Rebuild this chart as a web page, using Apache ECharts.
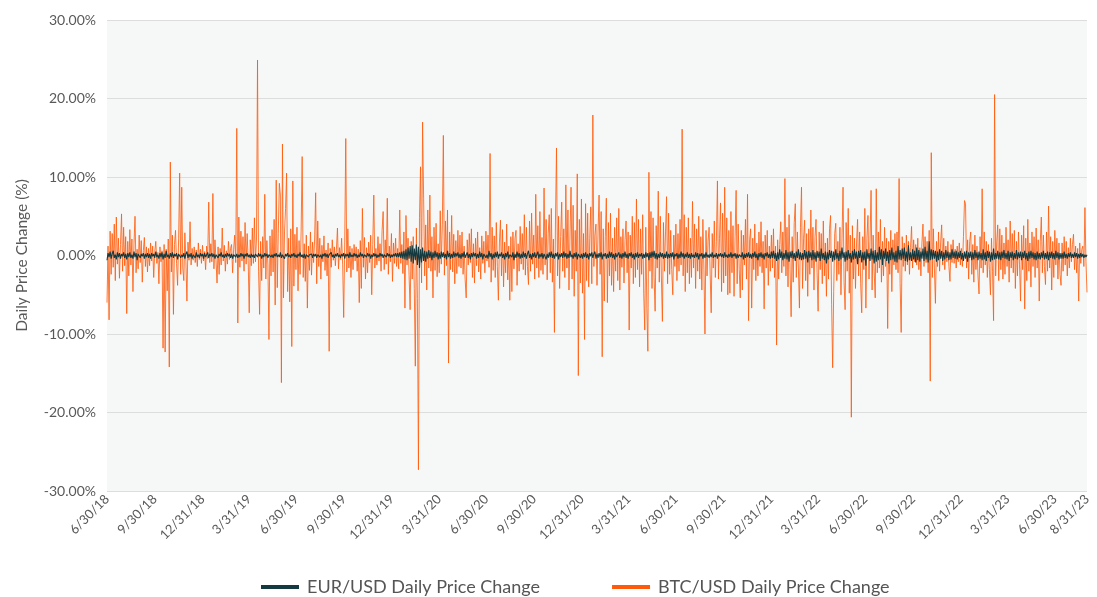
<!DOCTYPE html>
<html>
<head>
<meta charset="utf-8">
<script src="https://cdn.jsdelivr.net/npm/echarts@6/dist/echarts.min.js"></script>
<style>html,body{margin:0;padding:0;background:#fff;}#c{width:1097px;height:597px;}</style>
</head>
<body>
<div id="c"></div>
<script>
// Tick labels on the date axis (quarter ends)
const tickLabels = ['6/30/18','9/30/18','12/31/18','3/31/19','6/30/19','9/30/19','12/31/19','3/31/20','6/30/20','9/30/20','12/31/20','3/31/21','6/30/21','9/30/21','12/31/21','3/31/22','6/30/22','9/30/22','12/31/22','3/31/23','6/30/23','8/31/23'];
const startDate = '6/30/18';
const stepDays = 2; // one reading every 2 days

// BTC/USD daily price change (%)
const btcValues = [
-6.0,1.2,-8.2,3.1,-2.4,2.8,-1.5,4.0,-3.2,4.9,-1.1,2.2,-2.9,1.4,5.3,-2.0,3.6,-1.3,2.4,-7.4,
1.8,-2.6,3.3,-1.2,2.1,-4.6,1.5,5.0,-2.2,0.8,-1.7,2.6,-0.9,1.9,-3.4,0.6,2.3,-1.4,1.1,-2.1,
0.9,-1.3,1.6,-0.7,1.2,-2.8,0.5,1.8,-1.0,0.4,-3.6,1.1,-0.8,0.6,-11.8,1.4,-12.3,0.8,-4.5,2.1,
-14.2,11.9,-2.1,2.6,-7.5,1.4,3.2,-1.0,-3.8,2.2,10.5,-2.4,8.7,-1.6,-3.2,2.9,-0.8,-5.8,1.7,-0.6,
4.3,-1.2,0.9,-0.6,1.1,-0.9,0.7,-1.4,1.6,-0.5,0.8,-1.0,1.3,-0.7,0.5,-1.8,1.2,-0.4,6.8,-0.9,
1.5,-0.8,7.9,-1.7,2.0,-0.6,-3.5,1.1,-2.4,0.9,-1.2,3.5,-0.7,1.3,-2.0,0.6,-1.1,1.8,-0.5,0.9,
1.4,-2.2,0.8,2.6,-0.9,16.2,-8.6,4.9,-1.5,3.1,-0.7,2.4,-2.0,4.2,-1.1,2.8,-0.6,-7.3,2.0,-1.3,
3.5,-1.0,4.8,-0.8,2.1,24.9,-2.0,-7.5,1.8,-3.2,2.4,-1.6,7.8,-3.0,1.9,-1.2,-10.7,2.5,-2.6,3.3,
-2.1,4.6,-6.3,9.6,-4.1,2.8,9.2,7.7,-16.2,14.2,-5.4,3.0,6.0,10.5,-4.6,2.2,-5.9,3.4,-11.6,9.5,
-3.9,2.7,-1.8,3.6,-4.5,1.9,-2.4,3.1,12.6,-2.8,1.5,-3.3,2.6,-6.7,1.2,-1.9,3.0,-2.5,1.7,-0.9,
2.1,8.0,-3.6,4.4,-1.4,2.2,-3.0,1.3,-0.8,2.5,-1.9,0.7,-2.6,1.6,-12.2,0.9,-1.5,2.0,-0.6,1.1,
-1.3,0.8,3.5,-1.7,1.0,-0.5,2.2,-1.2,-7.9,1.6,14.9,-2.1,3.4,-1.6,1.2,-2.8,0.9,-1.8,1.4,-0.7,
1.1,-2.0,0.8,-6.0,1.9,-4.2,6.0,-1.5,2.3,-3.0,1.0,-2.2,1.7,-0.9,2.6,-5.0,1.4,7.7,-1.6,0.9,
-1.2,2.4,-0.7,1.5,-2.0,3.2,5.6,-1.8,2.0,-1.1,7.3,-2.4,1.2,-0.8,2.8,-3.3,1.6,-1.0,2.2,-1.4,
0.9,-1.7,5.8,-1.0,1.4,-2.3,3.0,-6.7,5.1,-1.2,2.2,-2.6,-6.9,1.8,-3.0,2.4,-4.2,-14.1,3.5,-5.5,
-27.3,4.8,11.3,-3.5,17.0,7.3,-2.6,3.9,-4.4,5.8,-1.6,7.7,-2.0,2.4,-5.4,3.6,-1.9,4.1,-2.7,1.5,
-2.2,5.7,-1.1,3.9,15.3,-2.5,4.4,-1.3,5.8,-13.7,3.0,-1.8,5.1,-2.1,2.7,-3.6,1.9,-2.3,3.2,-1.4,
2.6,-1.6,3.0,-2.4,1.2,-3.1,-5.4,2.0,-1.2,2.8,-0.9,3.4,-2.8,1.5,-3.5,2.2,-1.3,3.0,-2.1,1.0,
-3.0,2.5,-1.0,1.8,-2.2,3.1,-0.7,2.6,-1.5,13.0,-3.4,3.6,-1.9,2.5,-2.8,4.2,-1.4,-5.7,1.6,4.5,
-2.6,3.3,-4.0,1.7,-2.2,4.0,-3.1,1.2,-5.7,2.4,-4.6,3.0,-1.7,2.2,3.2,-3.8,1.5,-2.0,3.7,-1.1,
2.8,-1.8,5.2,-2.5,3.6,-1.4,-3.7,4.4,-2.0,5.4,-1.1,2.6,-3.0,7.8,-1.6,3.8,-2.8,5.6,-1.9,2.3,
-2.4,8.6,-1.2,4.6,-3.1,2.8,5.2,-2.2,6.0,-3.4,2.1,-9.8,4.4,13.7,-2.6,5.0,-4.2,2.4,6.8,-2.0,
3.4,-2.8,9.0,-1.6,5.8,-4.4,2.6,8.7,-3.0,6.4,-5.2,3.2,-2.0,10.4,-15.3,4.6,-3.5,7.2,-4.8,2.8,
-10.7,6.6,-3.2,5.4,-4.0,2.2,6.2,-3.6,17.9,-1.4,2.6,4.0,-3.8,3.0,7.7,-2.4,5.6,-12.9,3.4,-5.8,
2.4,7.3,-6.0,4.2,-2.6,5.4,-3.8,2.2,-4.6,3.6,-2.0,4.8,-3.2,6.0,-4.4,2.4,-1.5,3.4,-3.5,2.0,
4.4,-2.2,3.0,-9.5,2.6,-1.6,5.0,-3.6,4.2,-2.8,7.2,-1.8,4.6,-4.0,3.4,-2.4,5.2,-4.8,-9.5,3.6,
-6.8,-12.2,10.6,-2.0,5.6,-4.2,4.8,-2.8,-7.1,3.8,-1.6,8.2,-3.4,5.0,-2.6,-8.4,4.2,-2.0,3.0,7.5,
-3.6,5.4,-2.4,3.2,-1.8,-5.0,2.6,-1.4,4.0,-3.2,2.8,-2.0,4.6,-1.2,16.1,-2.6,5.2,-4.6,3.6,-2.2,
4.8,-3.6,2.2,-2.8,6.9,-1.6,4.0,-4.2,3.4,-2.0,5.0,-3.0,2.4,-4.4,4.6,-1.8,-10.0,3.2,-2.6,1.8,
3.6,-2.4,-7.3,2.8,-1.6,4.4,-2.8,1.8,9.5,-3.0,2.2,6.7,-4.6,5.4,-3.5,8.7,-2.6,4.8,-5.0,3.2,
-4.8,5.6,-2.2,3.8,-5.2,2.4,8.3,-3.6,4.0,-1.8,-5.4,3.2,-4.4,2.6,-1.2,4.6,-3.0,7.8,-8.3,2.0,
3.4,-6.7,2.2,-1.8,4.0,-3.2,1.6,-2.6,3.0,-1.4,4.3,-2.2,1.8,-6.8,2.6,-1.6,3.2,-3.8,1.2,-2.0,
2.6,-1.6,3.4,-2.8,1.2,-11.4,2.0,-3.0,1.4,4.3,-2.2,3.0,-1.4,9.8,-2.6,3.6,-4.0,5.2,-1.8,-7.8,
2.4,-3.4,4.2,6.6,-2.8,3.0,-1.6,-6.7,3.6,8.7,-4.2,2.2,4.5,-3.2,2.8,-5.2,3.4,-2.4,5.8,-1.6,
3.6,-4.4,2.4,4.6,-2.2,-7.1,3.0,-1.8,2.8,-3.6,4.4,-2.6,1.6,-5.2,2.2,-3.0,3.4,5.1,-6.2,-14.3,
-4.6,2.8,4.1,-3.2,1.8,-2.4,3.6,-5.0,2.2,8.7,-3.4,-6.9,4.2,-2.0,6.0,-4.8,2.6,-20.6,3.8,-3.0,
2.2,-4.2,1.6,4.6,-2.6,3.0,-3.6,-7.3,2.4,-1.8,6.0,-6.7,2.2,5.1,-3.0,1.8,8.3,-4.4,2.6,-2.0,
-5.4,8.5,-2.2,3.0,-1.6,4.6,-3.4,1.8,-2.6,3.6,-1.4,2.2,-9.3,1.8,-2.4,3.2,-4.6,2.0,-1.2,2.8,
-1.8,3.0,-2.2,9.8,-3.6,-9.8,2.4,-1.4,1.6,-2.0,2.6,-1.2,1.8,-2.4,1.0,3.7,-1.6,2.0,-0.8,1.4,
-1.2,2.2,-1.8,1.0,-2.6,1.6,4.0,-1.4,2.4,-0.9,1.8,-2.2,3.2,-16.0,13.1,-2.8,3.4,-1.6,-6.1,1.8,
-1.4,3.0,-2.0,1.6,3.9,-1.2,2.2,-1.8,1.2,-0.8,1.8,-1.4,-3.3,1.4,-0.9,2.0,-1.0,0.8,-1.6,1.2,
-0.8,1.6,-1.2,0.9,-1.4,2.4,7.0,6.6,-1.6,2.0,-3.0,1.8,3.0,-2.4,1.4,-3.4,2.6,-1.8,1.2,-2.6,
-4.9,2.4,-1.6,8.5,-2.2,3.0,-1.2,1.8,-2.8,1.4,-1.8,-5.0,2.2,-2.0,-8.3,20.5,-2.6,1.6,3.9,-3.2,
3.4,-1.8,2.6,-3.0,1.6,-2.4,3.6,-1.4,2.0,-3.4,4.4,-1.6,2.8,-2.2,3.2,-4.2,1.8,-2.6,3.0,-1.2,
-5.8,2.6,-1.8,3.8,-6.8,2.2,-3.2,4.6,-2.0,1.6,-4.0,3.0,-1.4,2.4,-2.8,3.5,-1.6,2.0,-5.8,1.8,
4.9,-2.2,2.6,-1.4,-3.7,3.0,-2.0,6.3,-1.6,2.4,-4.4,1.8,-2.8,3.2,-1.2,2.2,-3.0,1.6,-2.4,-3.8,
1.6,-2.0,2.4,-1.2,1.8,-2.6,1.0,-1.6,2.2,-0.8,1.4,2.7,-1.8,1.2,-2.2,0.9,-5.8,1.6,-1.0,0.8,
1.2,-1.4,6.1,-0.8,-4.7
];

// EUR/USD daily price change (%)
const eurValues = [
-0.6,0.3,-0.2,0.5,-0.4,0.2,0.6,-0.3,0.1,-0.5,0.4,-0.2,0.3,-0.4,0.2,-0.1,0.4,-0.3,0.2,-0.5,
0.3,-0.2,0.4,-0.3,0.1,-0.4,0.5,-0.2,0.3,-0.6,0.2,0.4,-0.3,0.2,-0.1,0.3,-0.4,0.2,-0.2,0.3,
-0.3,0.2,-0.4,0.3,-0.1,0.2,-0.3,0.5,-0.2,0.1,-0.4,0.3,-0.2,0.4,-0.5,0.2,-0.3,0.6,-0.2,0.1,
-0.4,0.3,-0.2,0.4,-0.3,0.2,-0.1,0.3,-0.5,0.2,0.4,-0.3,0.1,-0.2,0.3,-0.4,0.2,0.5,-0.3,0.2,
-0.2,0.3,-0.4,0.1,0.2,-0.3,0.4,-0.2,0.1,-0.3,0.3,-0.1,0.2,-0.4,0.3,-0.2,0.1,0.4,-0.3,0.2,
-0.1,0.3,-0.2,0.2,-0.4,0.1,0.3,-0.3,0.2,-0.1,0.4,-0.2,0.1,-0.3,0.2,-0.2,0.3,-0.1,0.2,-0.3,
0.2,-0.4,0.1,0.3,-0.2,0.2,-0.3,0.1,-0.2,0.3,-0.1,0.2,-0.4,0.2,-0.1,0.3,-0.2,0.1,-0.3,0.2,
-0.2,0.1,-0.3,0.2,0.1,-0.2,0.3,-0.1,0.2,-0.4,0.1,-0.2,0.3,-0.1,0.2,-0.3,0.1,0.2,-0.2,0.1,
-0.3,0.2,-0.1,0.3,-0.2,0.1,-0.2,0.4,-0.3,0.1,0.2,-0.4,0.2,-0.1,0.3,-0.2,0.1,-0.3,0.2,-0.1,
0.3,-0.2,0.1,-0.3,0.2,-0.1,0.4,-0.2,0.1,-0.3,0.2,-0.4,0.1,0.3,-0.2,0.1,-0.1,0.2,-0.3,0.2,
-0.1,0.2,-0.3,0.1,0.3,-0.2,0.1,-0.4,0.2,-0.1,0.3,-0.2,0.2,-0.3,0.1,-0.1,0.4,-0.2,0.1,-0.3,
0.2,-0.1,0.3,-0.2,0.1,-0.3,0.2,-0.1,0.3,-0.4,0.2,-0.1,0.2,-0.3,0.4,-0.2,0.1,-0.2,0.3,-0.1,
0.2,-0.3,0.1,-0.2,0.4,-0.1,0.2,-0.3,0.1,0.2,-0.2,0.3,-0.1,0.2,-0.4,0.1,-0.2,0.3,-0.1,0.2,
-0.3,0.1,-0.2,0.3,-0.1,0.2,-0.3,0.1,0.2,-0.2,0.3,-0.1,0.2,-0.3,0.1,-0.2,0.2,-0.1,0.3,-0.2,
0.3,-0.2,0.4,-0.3,0.5,-0.4,0.6,-0.5,0.8,-0.6,1.0,-0.4,1.2,-0.8,1.3,-1.0,0.9,-0.6,1.4,-1.2,
1.1,-1.6,0.8,-0.9,1.0,-0.7,0.6,-0.8,0.5,-0.4,0.7,-0.3,0.5,-0.6,0.4,-0.3,0.6,-0.2,0.4,-0.5,
0.3,-0.4,0.5,-0.2,0.4,-0.3,0.2,-0.5,0.6,-0.2,0.3,-0.4,0.2,-0.3,0.5,-0.2,0.3,-0.1,0.4,-0.3,
0.2,-0.4,0.3,-0.2,0.5,-0.3,0.1,0.4,-0.3,0.2,-0.5,0.3,-0.2,0.4,-0.1,0.3,-0.4,0.2,-0.3,0.5,
-0.2,0.3,-0.5,0.2,0.4,-0.3,0.1,-0.4,0.6,-0.2,0.3,-0.5,0.2,-0.3,0.4,-0.2,0.5,-0.4,0.2,-0.1,
0.4,-0.3,0.2,-0.5,0.3,-0.2,0.5,-0.4,0.1,0.3,-0.2,0.4,-0.6,0.2,-0.3,0.5,-0.2,0.3,-0.4,0.2,
-0.3,0.5,-0.2,0.3,-0.4,0.2,0.6,-0.3,0.2,-0.5,0.3,-0.2,0.4,-0.3,0.1,0.5,-0.4,0.2,-0.2,0.3,
-0.4,0.2,0.3,-0.5,0.2,-0.3,0.4,-0.2,0.5,-0.3,0.2,-0.4,0.3,-0.1,0.4,-0.5,0.2,-0.2,0.3,-0.3,
0.5,-0.2,0.3,-0.4,0.2,-0.3,0.6,-0.2,0.1,-0.4,0.3,-0.2,0.4,-0.5,0.2,0.3,-0.3,0.2,-0.4,0.3,
-0.2,0.4,-0.3,0.2,-0.5,0.3,-0.1,0.4,-0.3,0.2,0.5,-0.4,0.2,-0.3,0.3,-0.2,0.4,-0.5,0.2,-0.1,
0.3,-0.4,0.2,-0.3,0.5,-0.2,0.4,-0.3,0.2,-0.5,0.3,-0.2,0.1,0.4,-0.3,0.2,-0.4,0.3,-0.2,0.5,
-0.3,0.2,-0.4,0.3,-0.1,0.4,-0.3,0.2,-0.5,0.3,-0.2,0.4,-0.3,0.2,-0.1,0.3,-0.4,0.2,-0.3,0.4,
-0.2,0.3,-0.6,0.4,-0.3,0.5,-0.2,0.6,-0.4,0.3,-0.5,0.2,-0.3,0.4,-0.2,0.3,-0.4,0.2,-0.3,0.5,
-0.4,0.2,-0.3,0.3,-0.2,0.4,-0.5,0.2,-0.1,0.3,-0.4,0.2,-0.3,0.5,-0.2,0.3,-0.4,0.2,-0.2,0.4,
-0.3,0.2,-0.4,0.3,-0.2,0.1,-0.3,0.4,-0.2,0.3,-0.5,0.2,-0.1,0.3,-0.4,0.2,-0.3,0.4,-0.2,0.1,
-0.3,0.2,-0.2,0.4,-0.3,0.1,-0.2,0.3,-0.4,0.2,-0.1,0.3,-0.2,0.2,-0.3,0.4,-0.2,0.1,-0.3,0.2,
-0.2,0.4,-0.3,0.2,-0.1,0.3,-0.4,0.2,-0.3,0.1,0.3,-0.2,0.4,-0.5,0.2,-0.3,0.3,-0.2,0.4,-0.3,
0.2,-0.4,0.3,-0.2,0.5,-0.3,0.2,-0.6,0.3,-0.2,0.4,-0.3,0.2,-0.5,0.3,-0.1,0.4,-0.3,0.2,-0.4,
0.5,-0.3,0.6,-0.4,0.3,-0.7,0.4,-0.5,0.8,-0.3,0.5,-0.6,0.3,-0.4,0.7,-0.5,0.4,-0.8,0.5,-0.3,
0.6,-0.4,0.3,-0.7,0.5,-0.3,0.8,-0.5,0.4,-0.6,0.3,-0.5,0.7,-0.4,0.5,-0.9,0.6,-0.3,0.4,-0.6,
0.7,-0.5,0.4,-0.8,0.6,-0.3,0.5,-0.7,0.9,-0.4,0.3,-0.6,0.5,-1.0,0.4,-0.5,0.7,-0.3,0.6,-0.8,
0.5,-0.6,0.8,-0.4,0.3,-0.7,0.6,-0.5,1.0,-0.3,0.4,-0.8,0.5,-0.6,0.7,-0.4,0.3,-0.9,0.6,-0.5,
0.8,-0.4,0.5,-1.1,0.6,-0.3,0.7,-0.9,0.4,-0.6,0.5,-1.3,0.8,-0.4,0.3,-0.7,0.9,-0.5,0.6,-1.0,
0.7,-0.8,0.4,-0.6,1.1,-0.5,0.8,-1.2,0.6,-0.4,0.9,-0.7,0.5,-1.0,0.7,-0.6,1.0,-0.5,0.4,-0.8,
0.6,-0.9,1.2,-0.5,0.7,-0.6,0.9,-0.4,1.0,-0.7,0.5,-0.8,1.3,-0.6,0.4,-0.7,0.8,-0.5,0.6,-0.9,
1.0,-0.6,0.7,-0.8,0.5,-0.4,0.9,-0.7,1.1,-0.5,0.6,-0.9,1.8,-0.6,0.8,-0.5,0.7,-0.4,0.6,-0.8,
0.5,-0.6,0.8,-0.4,0.6,-0.7,0.4,-0.5,0.7,-0.3,0.5,-0.6,0.4,-0.5,0.8,-0.3,0.5,-0.4,0.6,-0.5,
0.4,-0.3,0.6,-0.5,0.3,-0.7,0.5,-0.4,0.6,-0.8,0.4,-0.3,0.5,-0.6,0.4,-0.5,0.7,-0.3,0.4,-0.6,
0.5,-0.4,0.3,-0.6,0.8,-0.5,0.4,-0.7,0.6,-0.3,0.5,-0.8,0.4,-0.6,0.9,-0.5,0.3,-0.4,0.6,-0.5,
0.4,-0.6,0.5,-0.3,0.7,-0.4,0.3,-0.5,0.6,-0.7,0.4,-0.3,0.5,-0.6,0.3,-0.4,0.7,-0.5,0.4,-0.3,
0.5,-0.6,0.4,-0.3,0.6,-0.5,0.3,-0.7,0.5,-0.4,0.6,-0.3,0.4,-0.5,0.3,-0.6,0.5,-0.4,0.3,-0.5,
0.4,-0.3,0.6,-0.5,0.3,-0.4,0.5,-0.6,0.4,-0.3,0.5,-0.4,0.3,-0.5,0.6,-0.3,0.4,-0.5,0.3,-0.4,
0.3,-0.4,0.5,-0.3,0.2,-0.4,0.3,-0.2,0.4,-0.3,0.2,-0.3,0.4,-0.2,0.3,-0.4,0.2,-0.3,0.3,-0.2,
0.2,-0.3,0.1,-0.2,0.1
];

const seriesNames = ['EUR/USD Daily Price Change', 'BTC/USD Daily Price Change'];
const yTicks = { min: -30, max: 30, interval: 10 };

function parseMDY(s) {
  const p = s.split('/').map(Number);
  return Date.UTC(2000 + p[2], p[0] - 1, p[1]);
}
const t0 = parseMDY(startDate);
const dayOf = s => Math.round((parseMDY(s) - t0) / 86400000);
const tickDays = tickLabels.map(dayOf);
const labelByDay = {};
tickLabels.forEach((l, i) => { labelByDay[tickDays[i]] = l; });
const lastDay = tickDays[tickDays.length - 1];

const btcData = btcValues.map((v, i) => [i * stepDays, v]);
const eurData = eurValues.map((v, i) => [i * stepDays, v]);

const chart = echarts.init(document.getElementById('c'), null, { renderer: 'canvas' });
const FONT = 'Lato, "Open Sans", sans-serif';
chart.setOption({
  animation: false,
  backgroundColor: '#ffffff',
  textStyle: { fontFamily: FONT },
  grid: {
    left: 107, right: 10, top: 20, bottom: 106,
    show: true, backgroundColor: '#f6f8f8', borderWidth: 0
  },
  legend: {
    data: seriesNames,
    left: 256, top: 573,
    itemWidth: 38, itemHeight: 4, itemGap: 72,
    icon: 'rect',
    textStyle: { fontSize: 18, color: '#555555', fontFamily: FONT, padding: [0, 0, 0, 3] }
  },
  xAxis: {
    type: 'value',
    min: 0, max: lastDay,
    axisLine: { show: false },
    axisTick: { show: false },
    splitLine: { show: false },
    axisLabel: {
      customValues: tickDays,
      rotate: 45,
      margin: 6,
      fontSize: 13,
      color: '#595959',
      fontFamily: FONT,
      formatter: v => labelByDay[Math.round(v)] || ''
    }
  },
  yAxis: {
    type: 'value',
    min: yTicks.min, max: yTicks.max, interval: yTicks.interval,
    name: 'Daily Price Change (%)',
    nameLocation: 'middle',
    nameGap: 77,
    nameRotate: 90,
    nameTextStyle: { fontSize: 15.5, color: '#595959', fontFamily: FONT },
    axisLine: { show: false },
    axisTick: { show: false },
    axisLabel: {
      fontSize: 14, color: '#595959', margin: 11, fontFamily: FONT,
      formatter: v => v.toFixed(2) + '%'
    },
    splitLine: { lineStyle: { color: '#dddddd', width: 1 } }
  },
  series: [
    {
      name: seriesNames[0], type: 'line', data: eurData,
      showSymbol: false, symbol: 'none', sampling: null,
      color: '#123a40',
      lineStyle: { color: '#123a40', width: 1.1 },
      z: 4
    },
    {
      name: seriesNames[1], type: 'line', data: btcData,
      showSymbol: false, symbol: 'none', sampling: null,
      color: '#ff5a0a',
      lineStyle: { color: '#ff5a0a', width: 0.9, opacity: 0.9 },
      z: 3
    }
  ]
});
</script>
</body>
</html>
